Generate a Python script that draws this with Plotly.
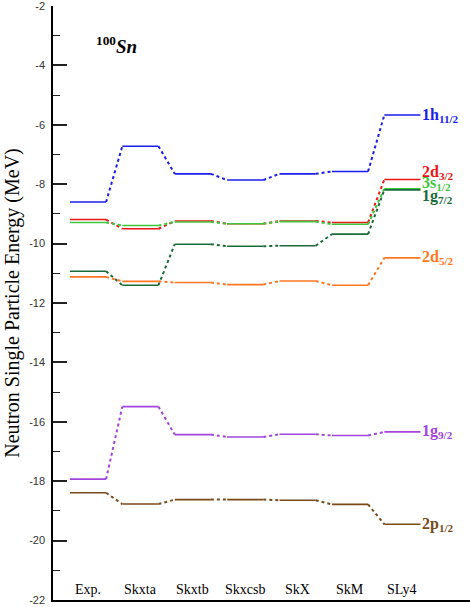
import plotly.graph_objects as go

# Models (Skyrme parametrisations) compared with experiment
models = ["Exp.", "Skxta", "Skxtb", "Skxcsb", "SkX", "SkM", "SLy4"]

# Energy axis ticks (MeV)
y_ticks = [-22, -20, -18, -16, -14, -12, -10, -8, -6, -4, -2]

# Neutron single-particle energies (MeV) of 100Sn per model
e_1h11 = [-8.60, -6.72, -7.65, -7.86, -7.65, -7.57, -5.67]
e_2d32 = [-9.19, -9.50, -9.24, -9.33, -9.24, -9.29, -7.84]
e_3s12 = [-9.29, -9.39, -9.27, -9.33, -9.26, -9.35, -8.15]
e_1g72 = [-10.93, -11.40, -10.02, -10.09, -10.07, -9.68, -8.19]
e_2d52 = [-11.12, -11.27, -11.31, -11.38, -11.26, -11.40, -10.48]
e_1g92 = [-17.93, -15.49, -16.43, -16.51, -16.42, -16.46, -16.34]
e_2p12 = [-18.39, -18.77, -18.62, -18.62, -18.64, -18.78, -19.45]

levels = [
    ("1h<sub>11/2</sub>", e_1h11, "#1c1cee", 0),
    ("2d<sub>3/2</sub>", e_2d32, "#ee1515", 7),
    ("3s<sub>1/2</sub>", e_3s12, "#3cc83c", 5),
    ("1g<sub>7/2</sub>", e_1g72, "#1a6b3a", -7),
    ("2d<sub>5/2</sub>", e_2d52, "#ff7722", 0),
    ("1g<sub>9/2</sub>", e_1g92, "#a244dd", 0),
    ("2p<sub>1/2</sub>", e_2p12, "#7a4a1a", 0),
]

half = 0.345  # half width of a level bar in category units

fig = go.Figure()
annotations = []
for name, vals, color, yshift in levels:
    xs, ys = [], []
    for i, v in enumerate(vals):
        xs += [i - half, i + half, None]
        ys += [v, v, None]
    fig.add_trace(go.Scatter(x=xs, y=ys, mode="lines",
                             line=dict(color=color, width=1.6),
                             hoverinfo="skip", showlegend=False))
    cx, cy = [], []
    for i in range(len(vals) - 1):
        cx += [i + half, i + 1 - half, None]
        cy += [vals[i], vals[i + 1], None]
    fig.add_trace(go.Scatter(x=cx, y=cy, mode="lines",
                             line=dict(color=color, width=2, dash="dot"),
                             hoverinfo="skip", showlegend=False))
    annotations.append(dict(
        x=len(vals) - 1 + half, y=vals[-1], xref="x", yref="y",
        text="<b>" + name + "</b>", showarrow=False,
        xanchor="left", yanchor="middle", xshift=0, yshift=yshift,
        font=dict(family="Liberation Serif", size=16, color=color)))

for i, m in enumerate(models):
    annotations.append(dict(
        x=i, y=-21.66, xref="x", yref="y", text=m, showarrow=False,
        xanchor="center", yanchor="middle",
        font=dict(family="Liberation Serif", size=14, color="black")))

annotations.append(dict(
    x=0.55, y=-3.3, xref="x", yref="y",
    text="<b><sup>100</sup></b><b><i>Sn</i></b>", showarrow=False,
    xanchor="center", yanchor="middle",
    font=dict(family="Liberation Serif", size=19, color="black")))

fig.update_layout(
    width=470, height=607,
    margin=dict(l=53, r=0, t=4, b=7),
    paper_bgcolor="white", plot_bgcolor="white",
    annotations=annotations,
    xaxis=dict(range=[-0.668, 7.29], showgrid=False, zeroline=False,
               showticklabels=False, ticks="", showline=True,
               linecolor="black", linewidth=1.5),
    yaxis=dict(range=[-22, -1.999], tickmode="array", tickvals=y_ticks,
               ticktext=[str(v) for v in y_ticks], showgrid=False,
               zeroline=False, showline=True, linecolor="black",
               linewidth=1.5, ticks="inside", ticklen=14, tickwidth=1.5,
               tickcolor="#222", ticklabelstandoff=4,
               ticklabeloverflow="allow",
               tickfont=dict(family="Liberation Sans", size=11, color="#333"),
               minor=dict(tickmode="linear", tick0=-3, dtick=2,
                          ticks="inside", ticklen=7,
                          tickwidth=1.2, tickcolor="#222"),
               title=dict(text="Neutron Single Particle Energy (MeV)",
                          standoff=4,
                          font=dict(family="Liberation Serif", size=20,
                                    color="black"))),
)

fig.write_html("out.html")
